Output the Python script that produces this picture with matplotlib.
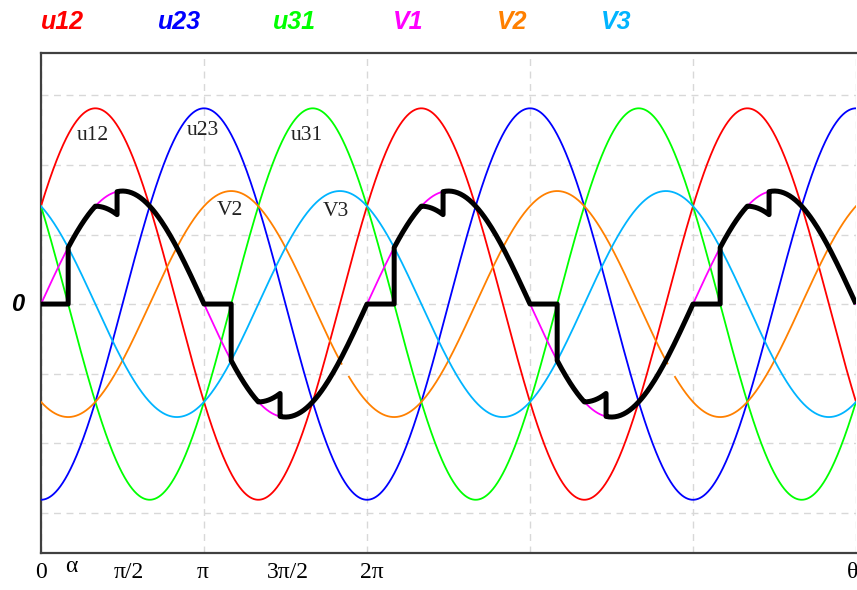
import numpy as np
import matplotlib
matplotlib.use('Agg')
import matplotlib.pyplot as plt
import matplotlib.transforms as mtransforms

# ----------------------------------------------
# data (volts vs electrical angle in degrees)

Vm = 325.0                       # phase voltage peak
Um = Vm * np.sqrt(3)             # line voltage peak
alpha = 30.0                     # firing angle
theta_end = 900.0                # 2.5 periods shown

names  = ['u12', 'u23', 'u31', 'V1', 'V2', 'V3']
colors = ['#ff0000', '#0000ff', '#00ff00', '#ff00ff', '#ff8000', '#00b4ff']
amps   = [Um, Um, Um, Vm, Vm, Vm]
phases = [30, -90, 150, 0, -120, 120]

# output voltage of phase 1 over one period: (from, to, source)
out_segments = [(0, 30, 'zero'), (30, 60, 'V1'), (60, 84, 'u12/2'), (84, 180, 'V1'),
                (180, 210, 'zero'), (210, 240, 'V1'), (240, 264, 'u12/2'), (264, 360, 'V1')]

# V2 trace is missing over this part of each period
v2_gap = (332, 340)

# inline labels
inline_text = ['u12', 'u23', 'u31', 'V2', 'V3']
inline_x    = [57, 179, 294, 209, 326]
inline_y    = [486, 498, 486, 270, 265]

# x axis labels
xlab_text = ['0', '\u03b1', '\u03c0/2', '\u03c0', '3\u03c0/2', '2\u03c0', '\u03b8']
xlab_pos  = [0, 33, 97, 178, 273, 365, 896]

# ----------------------------------------------

def source( name, th ):
    r = np.radians(th)
    if name == 'V1':
        return Vm * np.sin(r)
    if name == 'u12/2':
        return Um / 2 * np.sin(r + np.radians(30))
    return np.zeros_like(th)

fig = plt.figure( figsize=(8.57, 5.90), dpi=100 )
ax = fig.add_axes( [41/857, 37/590, 815/857, 500/590] )

th = np.linspace( 0, theta_end, 3000 )

for name, col, a, ph in zip(names, colors, amps, phases):
    y = a * np.sin( np.radians(th + ph) )
    if name == 'V2':
        m = th % 360
        y = np.where( (m > v2_gap[0]) & (m < v2_gap[1]), np.nan, y )
    ax.plot( th, y, color=col, lw=1.3, zorder=3 )

# output voltage, segment by segment
tx, ty = [], []
for k in range( int(np.ceil(theta_end/360)) ):
    for a, b, src in out_segments:
        a, b = a + 360*k, min(b + 360*k, theta_end)
        if a >= theta_end:
            continue
        t = np.linspace( a, b, 60 )
        tx.extend( t )
        ty.extend( source(src, t) )
ax.plot( tx, ty, color='black', lw=3.6, zorder=5, solid_capstyle='butt' )

ax.set_xlim( 0, theta_end )
ax.set_ylim( -716, 722 )
ax.set_xticks( np.arange(0, theta_end + 1, 180) )
ax.set_yticks( np.arange(-600, 601, 200) )
ax.grid( True, color='#d8d8d8', lw=1.0, ls=(0, (5, 4)) )
ax.tick_params( length=0, labelbottom=False, labelleft=False )
for s in ['left', 'top', 'bottom']:
    ax.spines[s].set_color( '#404040' )
    ax.spines[s].set_linewidth( 1.6 )
ax.spines['right'].set_visible( False )

for t, x, y in zip(inline_text, inline_x, inline_y):
    ax.text( x, y, t, family='Liberation Serif', fontsize=15.5,
             ha='center', va='center', color='#222222', zorder=6 )

xt = ax.get_xaxis_transform()
for t, x in zip(xlab_text, xlab_pos):
    yy = -0.028 if t == '\u03b1' else -0.038
    ax.text( x, yy, t, family='Liberation Serif', fontsize=17,
             ha='center', va='center', transform=xt, clip_on=False )

yt = mtransforms.blended_transform_factory( ax.transAxes, ax.transData )
ax.text( -0.029, 0, '0', family='Liberation Sans', fontsize=17, fontweight='bold',
         fontstyle='italic', ha='center', va='center', transform=yt )

# legend row on top
leg_x = [41, 158, 273, 393, 497, 601]
for name, col, x in zip(names, colors, leg_x):
    fig.text( x/857, 1 - 22/590, name, family='Liberation Sans', fontsize=18,
              fontweight='bold', fontstyle='italic', color=col,
              ha='left', va='center' )

plt.savefig( 'out.png', dpi=100 )
